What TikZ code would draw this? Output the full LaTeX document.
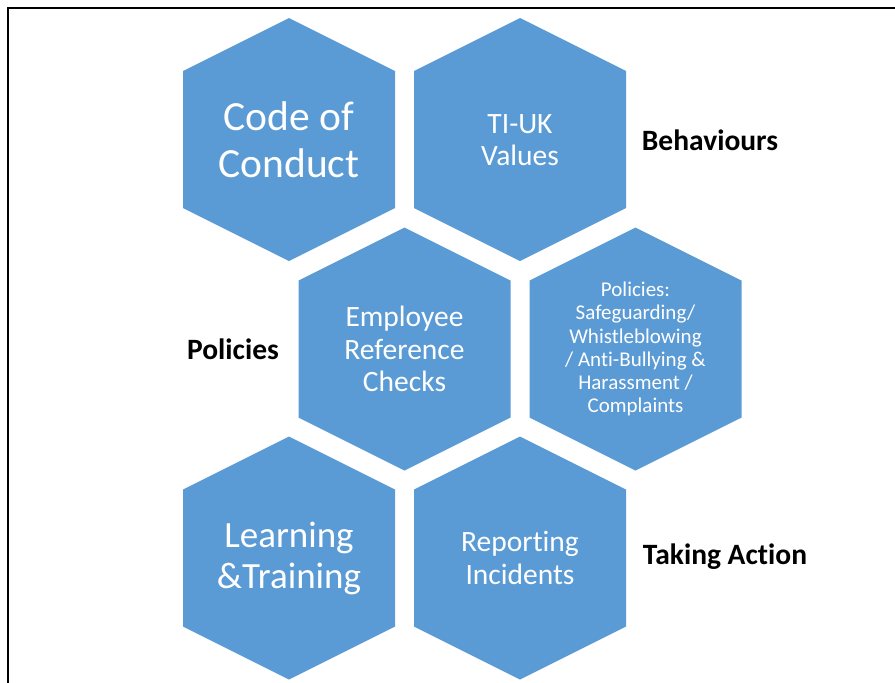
\documentclass[tikz,border=0pt]{standalone}
\usepackage{fontspec}
\setmainfont[Ligatures=NoCommon]{Carlito}
\definecolor{blu}{HTML}{5B9BD5}
\tikzset{
  esa/.style={fill=blu},
  testo/.style={text=white,align=center},
  etichetta/.style={font=\bfseries\fontsize{29.5}{33}\selectfont}
}
\newcommand{\esagono}[1]{%
  \fill[esa] (#1) +(0,-121.5) -- +(106,-68.5) -- +(106,68.5) -- +(0,121.5)
    -- +(-106,68.5) -- +(-106,-68.5) -- cycle;}
\begin{document}
\begin{tikzpicture}[x=1pt,y=-1pt]
        \useasboundingbox (0,0) rectangle (895,683);
        %%%%%%%%%% Cornice %%%%%%%%%%
        \draw[line width=2pt] (8.3,683) -- (8.3,8.3) -- (895,8.3);

        %%%%%%%%%% Esagoni %%%%%%%%%%
        \esagono{289,139.5}
        \esagono{520,139.5}
        \esagono{404.5,349}
        \esagono{635.5,349}
        \esagono{289,558}
        \esagono{520,558}

        %%%%%%%%%% Testi %%%%%%%%%%
        \node[testo,font=\fontsize{41.5}{47}\selectfont] (cod) at (289,140) {Code of\\Conduct};
        \node[testo,font=\fontsize{29.5}{32.5}\selectfont] (val) at (520,140) {TI-UK\\Values};
        \node[testo,font=\fontsize{29.5}{32.5}\selectfont] (ref) at (404.5,349) {Employee\\Reference\\Checks};
        \node[testo,font=\fontsize{21}{23.2}\selectfont] (pol) at (635.5,349) {Policies:\\Safeguarding/\\Whistleblowing\\/ Anti-Bullying \&\\Harassment /\\Complaints};
        \node[testo,font=\fontsize{37}{41}\selectfont] (lear) at (289,558) {Learning\\\&Training};
        \node[testo,font=\fontsize{29.5}{32.5}\selectfont] (rep) at (520,558) {Reporting\\Incidents};

        %%%%%%%%%% Etichette %%%%%%%%%%
        \node[etichetta] (lbeh) at (710,140) {Behaviours};
        \node[etichetta] (lpol) at (233,349) {Policies};
        \node[etichetta] (lact) at (725,557) {Taking Action};
    \end{tikzpicture}
\end{document}
